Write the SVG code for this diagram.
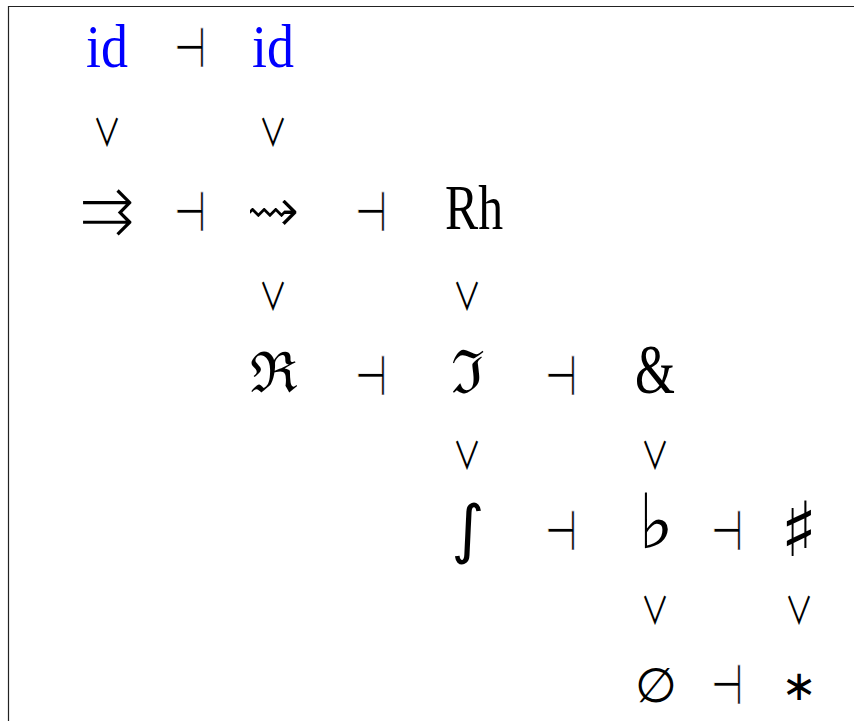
<svg xmlns="http://www.w3.org/2000/svg" width="854" height="721" viewBox="0 0 854 721">
<style>
.sym{font-family:"DejaVu Sans",sans-serif;fill:#000;text-anchor:middle}
.thin{font-weight:200}
.rel{font-family:"Noto Sans CJK JP",sans-serif;fill:#000;text-anchor:middle}
.dv{font-size:38px}
.da{font-size:56px;stroke:#fff;stroke-width:0.7px}
.serif{font-family:"Liberation Serif","DejaVu Serif",serif;fill:#000;text-anchor:middle}
.blue{fill:#0000ff}
</style>
<rect x="0" y="0" width="854" height="721" fill="#fff"/>
<path d="M8.5,721 V6.5 H854" fill="none" stroke="#222" stroke-width="1.2"/>
<g id="connectors">
<text class="rel da" transform="translate(190,67) scale(0.66,1)">⊣</text>
<text class="rel da" transform="translate(190,231) scale(0.66,1)">⊣</text>
<text class="rel da" transform="translate(371,231) scale(0.66,1)">⊣</text>
<text class="rel da" transform="translate(371,395) scale(0.66,1)">⊣</text>
<text class="rel da" transform="translate(561,395) scale(0.66,1)">⊣</text>
<text class="rel da" transform="translate(561,550) scale(0.66,1)">⊣</text>
<text class="rel da" transform="translate(727,550) scale(0.66,1)">⊣</text>
<text class="rel da" transform="translate(727,704) scale(0.66,1)">⊣</text>
<text class="rel dv" transform="translate(107,146) scale(0.75,1)">∨</text>
<text class="rel dv" transform="translate(273,146) scale(0.75,1)">∨</text>
<text class="rel dv" transform="translate(273,310) scale(0.75,1)">∨</text>
<text class="rel dv" transform="translate(467,310) scale(0.75,1)">∨</text>
<text class="rel dv" transform="translate(467,469) scale(0.75,1)">∨</text>
<text class="rel dv" transform="translate(655,469) scale(0.75,1)">∨</text>
<text class="rel dv" transform="translate(655,624) scale(0.75,1)">∨</text>
<text class="rel dv" transform="translate(799,624) scale(0.75,1)">∨</text>
</g>
<g id="n-id1"><text class="serif blue" x="107" y="67" font-size="62" textLength="42" lengthAdjust="spacingAndGlyphs">id</text></g>
<g id="n-id2"><text class="serif blue" x="273" y="67" font-size="62" textLength="42" lengthAdjust="spacingAndGlyphs">id</text></g>
<g id="n-rightrightarrows"><text class="sym thin" x="107" y="233" font-size="66">⇉</text></g>
<g id="n-rightsquigarrow"><text class="sym" x="273" y="233" font-size="66" stroke="#fff" stroke-width="2">⇝</text></g>
<g id="n-Rh"><text class="serif" x="474" y="229" font-size="63" textLength="58" lengthAdjust="spacingAndGlyphs">Rh</text></g>
<g id="n-Re"><text class="serif" x="274" y="392" font-size="56">ℜ</text></g>
<g id="n-Im"><text class="serif" x="468" y="393" font-size="60">ℑ</text></g>
<g id="n-amp"><text class="serif" x="655" y="393" font-size="70" textLength="40" lengthAdjust="spacingAndGlyphs">&amp;</text></g>
<g id="n-int"><text class="sym" x="468" y="551" font-size="64">∫</text></g>
<g id="n-flat"><text class="sym" x="656" y="548" font-size="76">♭</text></g>
<g id="n-sharp"><text class="sym" x="799" y="556" font-size="76">♯</text></g>
<g id="n-emptyset"><text class="sym thin" x="656" y="702" font-size="48">∅</text></g>
<g id="n-ast"><text class="sym" x="799" y="700" font-size="42">∗</text></g>
</svg>
